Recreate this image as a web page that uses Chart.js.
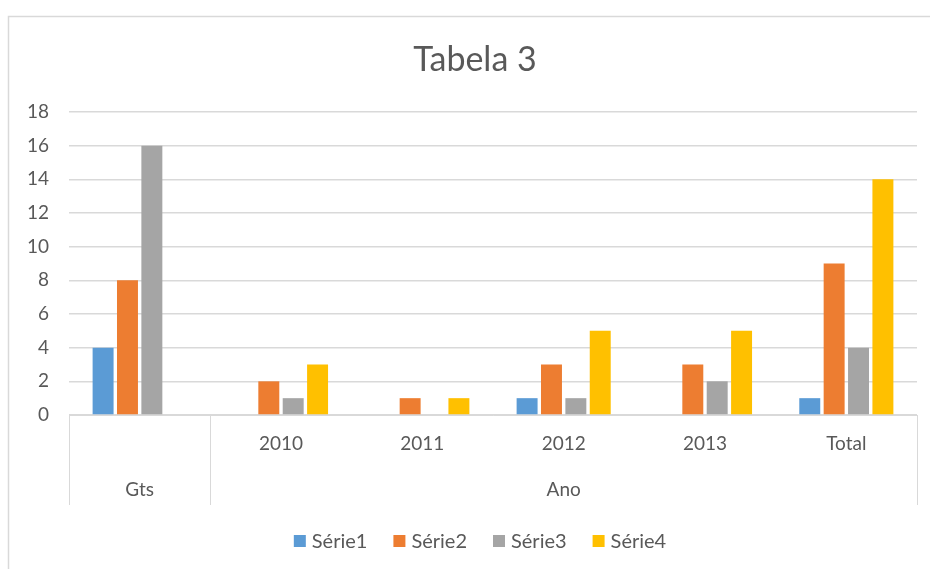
<!DOCTYPE html>
<html>
<head>
<meta charset="utf-8">
<script src="https://cdn.jsdelivr.net/npm/chart.js@4/dist/chart.umd.min.js"></script>
<style>
html,body{margin:0;padding:0;background:#fff;}
#wrap{width:930px;height:569px;position:relative;}
</style>
</head>
<body>
<div id="wrap"><canvas id="c" width="930" height="569"></canvas></div>
<script>
const title = 'Tabela 3';
const categories = ['', '2010', '2011', '2012', '2013', 'Total'];
const groups = [{label: 'Gts', from: 0, to: 0}, {label: 'Ano', from: 1, to: 5}];
const serie1 = [4, 0, 0, 1, 0, 1];
const serie2 = [8, 2, 1, 3, 3, 9];
const serie3 = [16, 1, 0, 1, 2, 4];
const serie4 = [0, 3, 1, 5, 5, 14];
const seriesNames = ['Série1', 'Série2', 'Série3', 'Série4'];
const colors = ['#5B9BD5', '#ED7D31', '#A5A5A5', '#FFC000'];
const yTicks = [0, 2, 4, 6, 8, 10, 12, 14, 16, 18];

const FONT = 'Lato, "Liberation Sans", sans-serif';
const TEXT = '#595959';
const LINE = '#D9D9D9';

const decorPlugin = {
  id: 'decorPlugin',
  beforeDraw(chart) {
    const ctx = chart.ctx;
    ctx.save();
    ctx.strokeStyle = LINE;
    ctx.lineWidth = 1.5;
    ctx.beginPath();
    ctx.moveTo(8.5, 569);
    ctx.lineTo(8.5, 16.5);
    ctx.lineTo(930, 16.5);
    ctx.stroke();
    ctx.restore();
  },
  afterDraw(chart) {
    const ctx = chart.ctx;
    const x = chart.scales.x;
    const top = chart.chartArea.bottom;
    const bottom = top + 90;
    const half = (x.getPixelForValue(1) - x.getPixelForValue(0)) / 2;
    ctx.save();
    // title
    ctx.fillStyle = TEXT;
    ctx.textAlign = 'center';
    ctx.textBaseline = 'middle';
    ctx.font = '34px ' + FONT;
    ctx.fillText(title, 475, 60);
    // group row
    ctx.strokeStyle = LINE;
    ctx.lineWidth = 1;
    ctx.font = '19px ' + FONT;
    const bounds = new Set();
    groups.forEach(g => {
      const l = x.getPixelForValue(g.from) - half;
      const r = x.getPixelForValue(g.to) + half;
      bounds.add(Math.round(l)); bounds.add(Math.round(r));
      ctx.fillText(g.label, (l + r) / 2, top + 75);
    });
    bounds.forEach(b => {
      ctx.beginPath();
      ctx.moveTo(b + 0.5, top);
      ctx.lineTo(b + 0.5, bottom);
      ctx.stroke();
    });
    // legend
    ctx.font = '20px ' + FONT;
    ctx.textAlign = 'left';
    const box = 12, gapText = 6, gapItem = 26;
    const ds = chart.data.datasets;
    const widths = ds.map(d => box + gapText + ctx.measureText(d.label).width);
    const total = widths.reduce((a, b) => a + b, 0) + gapItem * (ds.length - 1);
    let lx = 480 - total / 2;
    const ly = 541;
    ds.forEach((d, i) => {
      ctx.fillStyle = d.backgroundColor;
      ctx.fillRect(lx, ly - box / 2, box, box);
      ctx.fillStyle = TEXT;
      ctx.fillText(d.label, lx + box + gapText, ly + 1);
      lx += widths[i] + gapItem;
    });
    ctx.restore();
  }
};

const datasets = [serie1, serie2, serie3, serie4].map((d, i) => ({
  label: seriesNames[i],
  data: d,
  backgroundColor: colors[i],
  borderWidth: 0,
  categoryPercentage: 0.69,
  barPercentage: 0.86
}));

new Chart(document.getElementById('c'), {
  type: 'bar',
  data: {labels: categories, datasets},
  plugins: [decorPlugin],
  options: {
    responsive: false,
    animation: false,
    layout: {padding: {left: 8, right: 13, top: 112, bottom: 64}},
    plugins: {
      title: {display: false},
      legend: {display: false},
      tooltip: {enabled: false}
    },
    scales: {
      x: {
        grid: {display: false, drawTicks: false},
        border: {display: true, color: LINE},
        ticks: {color: TEXT, font: {family: FONT, size: 19}, padding: 17, maxRotation: 0},
        afterFit(s) { s.height = 90; }
      },
      y: {
        min: 0, max: 18,
        afterBuildTicks(s) { s.ticks = yTicks.map(v => ({value: v})); },
        grid: {color: LINE, drawTicks: false, lineWidth: 1.5},
        border: {display: false},
        ticks: {color: TEXT, font: {family: FONT, size: 19}, padding: 20},
        afterFit(s) { s.width = 61; }
      }
    }
  }
});
</script>
</body>
</html>
